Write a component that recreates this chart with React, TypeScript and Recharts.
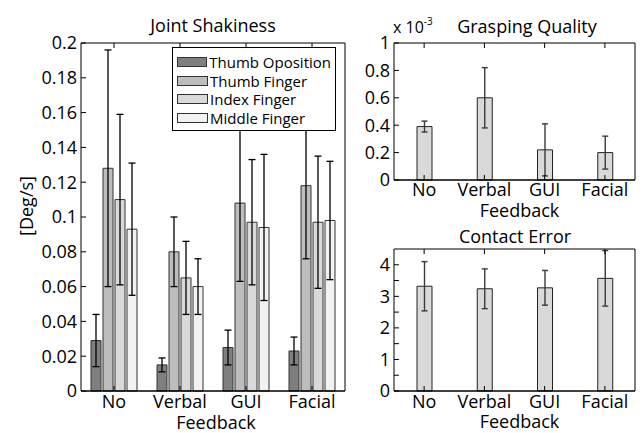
import React from "react";
import { BarChart, Bar, XAxis, YAxis, ErrorBar, Legend, Label } from "recharts";

const feedback = ["No", "Verbal", "GUI", "Facial"];

// Joint Shakiness [Deg/s]: mean and +/- error
const thumbOposition = [0.029, 0.015, 0.025, 0.023];
const thumbOpositionErr = [0.015, 0.004, 0.01, 0.008];
const thumbFinger = [0.128, 0.08, 0.108, 0.118];
const thumbFingerErr = [0.068, 0.02, 0.045, 0.042];
const indexFinger = [0.11, 0.065, 0.097, 0.097];
const indexFingerErr = [0.049, 0.021, 0.036, 0.038];
const middleFinger = [0.093, 0.06, 0.094, 0.098];
const middleFingerErr = [0.038, 0.016, 0.042, 0.034];
const shakinessTicks = [0, 0.02, 0.04, 0.06, 0.08, 0.1, 0.12, 0.14, 0.16, 0.18, 0.2];

// Grasping Quality (x 10^-3)
const grasping = [0.39, 0.6, 0.22, 0.2];
const graspingErr = [0.04, 0.22, 0.19, 0.12];
const graspingTicks = [0, 0.2, 0.4, 0.6, 0.8, 1];

// Contact Error
const contact = [3.32, 3.24, 3.27, 3.57];
const contactErr = [0.78, 0.63, 0.55, 0.88];
const contactTicks = [0, 0.5, 1, 1.5, 2, 2.5, 3, 3.5, 4];

const shakinessData = feedback.map((name, i) => ({
  name,
  to: thumbOposition[i],
  toErr: thumbOpositionErr[i],
  tf: thumbFinger[i],
  tfErr: thumbFingerErr[i],
  ix: indexFinger[i],
  ixErr: indexFingerErr[i],
  mf: middleFinger[i],
  mfErr: middleFingerErr[i],
}));
const graspingData = feedback.map((name, i) => ({ name, v: grasping[i], err: graspingErr[i] }));
const contactData = feedback.map((name, i) => ({ name, v: contact[i], err: contactErr[i] }));

const FONT = 18;
const IN = 5; // inward tick length
const INK = "#000";

const seriesDefs = [
  { key: "to", name: "Thumb Oposition", fill: "#7f7f7f" },
  { key: "tf", name: "Thumb Finger", fill: "#bdbdbd" },
  { key: "ix", name: "Index Finger", fill: "#d9d9d9" },
  { key: "mf", name: "Middle Finger", fill: "#f2f2f2" },
];

// ticks drawn inward, like the matlab box axes
const leftTick = (m: number, fmt: (v: number) => string) => (p: any) => (
  <g>
    <line x1={p.x + m} x2={p.x + m + IN} y1={p.y} y2={p.y} stroke={INK} />
    <text x={p.x} y={p.y} dy="0.36em" textAnchor="end" fontSize={FONT} fill={INK}>
      {fmt(p.payload.value)}
    </text>
  </g>
);
const rightTick = (p: any) => <line x1={p.x} x2={p.x - IN} y1={p.y} y2={p.y} stroke={INK} />;
const topTick = (p: any) => <line x1={p.x} x2={p.x} y1={p.y} y2={p.y + IN} stroke={INK} />;
const bottomTick = (m: number) => (p: any) => (
  <g>
    <line x1={p.x} x2={p.x} y1={p.y - m} y2={p.y - m - IN} stroke={INK} />
    <text x={p.x} y={p.y} dy="0.71em" textAnchor="middle" fontSize={FONT} fill={INK}>
      {p.payload.value}
    </text>
  </g>
);

const ShakinessLegend = ({ payload }: any) => {
  const items = [...(payload || [])].sort(
    (a: any, b: any) =>
      seriesDefs.findIndex((s) => s.name === a.value) - seriesDefs.findIndex((s) => s.name === b.value)
  );
  return (
    <div
      style={{
        border: "1px solid #000",
        background: "#fff",
        padding: "5px 4px 3px 4px",
        fontSize: 15,
        lineHeight: "18.5px",
        color: "#000",
      }}
    >
      {items.map((e: any) => (
        <div key={e.value} style={{ display: "flex", alignItems: "center", whiteSpace: "nowrap" }}>
          <span
            style={{
              display: "inline-block",
              width: 29,
              height: 8,
              background: e.color,
              border: "1px solid #333",
              marginRight: 2,
            }}
          />
          {e.value}
        </div>
      ))}
    </div>
  );
};

function BoxAxes({ domain, ticks, fmt, yWidth, xHeight, m, labelOffset, labelDx }: any) {
  return [
    <XAxis
      key="b"
      xAxisId="b"
      dataKey="name"
      height={xHeight}
      interval={0}
      tickSize={0}
      tickMargin={m}
      tickLine={false}
      axisLine={{ stroke: INK, strokeWidth: 1.6 }}
      tick={bottomTick(m)}
    >
      <Label
        value="Feedback"
        position="insideBottom"
        offset={labelOffset}
        dx={labelDx}
        fontSize={FONT}
        fill={INK}
      />
    </XAxis>,
    <XAxis
      key="t"
      xAxisId="t"
      dataKey="name"
      orientation="top"
      height={1}
      interval={0}
      tickSize={0}
      tickMargin={0}
      tickLine={false}
      axisLine={{ stroke: INK }}
      tick={topTick}
    />,
    <YAxis
      key="l"
      yAxisId="l"
      width={yWidth}
      domain={domain}
      ticks={ticks}
      interval={0}
      tickSize={0}
      tickMargin={4}
      tickLine={false}
      axisLine={{ stroke: INK }}
      tick={leftTick(4, fmt)}
    />,
    <YAxis
      key="r"
      yAxisId="r"
      orientation="right"
      width={1}
      domain={domain}
      ticks={ticks}
      interval={0}
      tickSize={0}
      tickMargin={0}
      tickLine={false}
      axisLine={{ stroke: INK }}
      tick={rightTick}
    />,
  ];
}

export default function App() {
  return (
    <div
      style={{
        position: "absolute",
        left: 0,
        top: 0,
        width: 643,
        height: 433,
        background: "#fff",
        fontFamily: '"Open Sans", sans-serif',
      }}
    >
      <div style={{ position: "absolute", left: 0, top: 0 }}>
        <BarChart
          width={360}
          height={433}
          data={shakinessData}
          margin={{ top: 42, right: 14, bottom: 0, left: 0 }}
          barSize={10}
          barGap={2}
        >
          {BoxAxes({
            domain: [0, 0.2],
            ticks: shakinessTicks,
            fmt: (v: number) => String(v),
            yWidth: 81,
            xHeight: 42,
            m: 4,
            labelOffset: 4,
            labelDx: 3,
          })}
          {seriesDefs.map((s) => (
            <Bar
              key={s.key}
              dataKey={s.key}
              name={s.name}
              xAxisId="b"
              yAxisId="l"
              fill={s.fill}
              stroke="#333"
              strokeWidth={1}
              isAnimationActive={false}
            >
              <ErrorBar dataKey={s.key + "Err"} width={3.5} stroke="#000" strokeWidth={1.3} />
            </Bar>
          ))}
          <Legend
            layout="vertical"
            align="center"
            verticalAlign="middle"
            wrapperStyle={{ left: 172, top: 47, width: 164 }}
            content={<ShakinessLegend />}
          />
        </BarChart>
      </div>

      <div style={{ position: "absolute", left: 340, top: 0 }}>
        <BarChart
          width={303}
          height={228}
          data={graspingData}
          margin={{ top: 42, right: 7, bottom: 0, left: 0 }}
          barSize={15}
        >
          {BoxAxes({
            domain: [0, 1],
            ticks: graspingTicks,
            fmt: (v: number) => String(v),
            yWidth: 54,
            xHeight: 48,
            m: 3,
            labelOffset: 11,
            labelDx: 5,
          })}
          <Bar dataKey="v" xAxisId="b" yAxisId="l" fill="#d9d9d9" stroke="#222" isAnimationActive={false}>
            <ErrorBar dataKey="err" width={3} stroke="#3a3a3a" strokeWidth={1.4} />
          </Bar>
        </BarChart>
      </div>

      <div style={{ position: "absolute", left: 340, top: 220 }}>
        <BarChart
          width={303}
          height={213}
          data={contactData}
          margin={{ top: 28, right: 7, bottom: 0, left: 0 }}
          barSize={15}
        >
          {BoxAxes({
            domain: [0, 4.5],
            ticks: contactTicks,
            fmt: (v: number) => (Number.isInteger(v) ? String(v) : ""),
            yWidth: 54,
            xHeight: 42,
            m: 4,
            labelOffset: 5,
            labelDx: 5,
          })}
          <Bar dataKey="v" xAxisId="b" yAxisId="l" fill="#d9d9d9" stroke="#222" isAnimationActive={false}>
            <ErrorBar dataKey="err" width={3} stroke="#3a3a3a" strokeWidth={1.4} />
          </Bar>
        </BarChart>
      </div>

      <svg
        width={643}
        height={433}
        style={{ position: "absolute", left: 0, top: 0, pointerEvents: "none" }}
      >
        <text x={213} y={32} textAnchor="middle" fontSize={18} fill={INK}>
          Joint Shakiness
        </text>
        <text
          x={26}
          y={206}
          textAnchor="middle"
          dominantBaseline="central"
          fontSize={18}
          fill={INK}
          transform="rotate(-90 26 206)"
        >
          [Deg/s]
        </text>
        <text x={393} y={33} fontSize={16} fill={INK}>
          x 10
          <tspan dy={-8} fontSize={10}>
            -3
          </tspan>
        </text>
        <text x={527} y={33} textAnchor="middle" fontSize={18} fill={INK}>
          Grasping Quality
        </text>
        <text x={515} y={243} textAnchor="middle" fontSize={18} fill={INK}>
          Contact Error
        </text>
      </svg>
    </div>
  );
}
